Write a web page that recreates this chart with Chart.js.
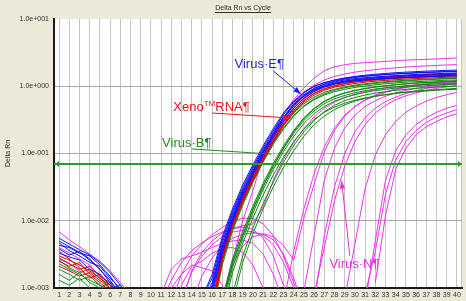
<!DOCTYPE html>
<html>
<head>
<meta charset="utf-8">
<script src="https://cdn.jsdelivr.net/npm/chart.js@4.4.1/dist/chart.umd.min.js"></script>
<style>
    html, body { margin: 0; padding: 0; background: #ece9d8; }
    #grafico { display: block; }
</style>
</head>
<body>
<canvas id="grafico" width="466" height="301"></canvas>
<script>
// Eixos
const cycles = ['1','2','3','4','5','6','7','8','9','10','11','12','13','14','15','16','17','18','19','20',
    '21','22','23','24','25','26','27','28','29','30','31','32','33','34','35','36','37','38','39','40'];
const yTicks = [0.001, 0.01, 0.1, 1, 10];
const yTickLabels = ['1.0e-003', '1.0e-002', '1.0e-001', '1.0e+000', '1.0e+001'];
const threshold = 0.071;

// Ruido de linha de base (ciclo 1 em diante)
const noiseBlue = [
    [0.0055, 0.0045, 0.0037, 0.0031, 0.0024, 0.0017, 0.0011, 0.0007],
    [0.0043, 0.0040, 0.0033, 0.0030, 0.0022, 0.0015, 0.0009],
    [0.0038, 0.0031, 0.0035, 0.0027, 0.0019, 0.0013, 0.0008],
    [0.0047, 0.0036, 0.0030, 0.0024, 0.0021, 0.0014, 0.0010, 0.0006],
    [0.0033, 0.0029, 0.0026, 0.0019, 0.0016, 0.0011, 0.0007],
    [0.0050, 0.0041, 0.0034, 0.0026, 0.0019, 0.0012, 0.0007]
];
const noiseRed = [
    [0.0030, 0.0026, 0.0022, 0.0018, 0.0014, 0.0011, 0.0008],
    [0.0025, 0.0021, 0.0024, 0.0016, 0.0012, 0.0009],
    [0.0021, 0.0018, 0.0015, 0.0017, 0.0013, 0.0010, 0.0007],
    [0.0035, 0.0027, 0.0020, 0.0014, 0.0016, 0.0011, 0.0008],
    [0.0028, 0.0023, 0.0019, 0.0021, 0.0015, 0.0012, 0.0009, 0.0006]
];
const noiseGreen = [
    [0.0019, 0.0016, 0.0013, 0.0015, 0.0011, 0.0009],
    [0.0016, 0.0013, 0.0017, 0.0012, 0.0010, 0.0012, 0.0009, 0.0007],
    [0.0013, 0.0011, 0.0014, 0.0010, 0.0008],
    [0.0023, 0.0019, 0.0016, 0.0013, 0.0011, 0.0009],
    [0.0026, 0.0020, 0.0017, 0.0019, 0.0014, 0.0010, 0.0011, 0.0008]
];
const noiseMagenta = [
    [0.0068, 0.0052, 0.0041, 0.0032, 0.0025, 0.0018, 0.0012, 0.0008],
    [0.0027, 0.0023, 0.0018, 0.0015, 0.0011, 0.0008],
    [0.0040, 0.0033, 0.0027, 0.0022, 0.0015, 0.0010, 0.0006]
];

// Virus E (azul)
const virusEStart = [15, 15, 15, 15, 15, 15, 15];
const virusE = [
    [0.0007, 0.0016, 0.0058, 0.0150, 0.034, 0.068, 0.130, 0.235, 0.40, 0.60, 0.82, 1.00, 1.13, 1.23, 1.31, 1.37, 1.42, 1.46, 1.50, 1.53, 1.56, 1.59, 1.62, 1.64, 1.66, 1.68],
    [0.0006, 0.0012, 0.0047, 0.0128, 0.029, 0.059, 0.113, 0.205, 0.35, 0.54, 0.75, 0.93, 1.06, 1.16, 1.24, 1.30, 1.34, 1.38, 1.41, 1.44, 1.47, 1.50, 1.52, 1.54, 1.56, 1.58],
    [0.0005, 0.0010, 0.0040, 0.0112, 0.0263, 0.0537, 0.105, 0.191, 0.331, 0.513, 0.708, 0.891, 1.02, 1.12, 1.20, 1.26, 1.29, 1.32, 1.35, 1.38, 1.41, 1.43, 1.45, 1.47, 1.49, 1.51],
    [0.0005, 0.0008, 0.0033, 0.0095, 0.023, 0.047, 0.093, 0.172, 0.30, 0.47, 0.66, 0.84, 0.97, 1.07, 1.14, 1.20, 1.24, 1.28, 1.31, 1.34, 1.37, 1.39, 1.41, 1.43, 1.45, 1.46],
    [0.0005, 0.0009, 0.0036, 0.0105, 0.025, 0.052, 0.102, 0.188, 0.33, 0.52, 0.73, 0.93, 1.08, 1.19, 1.28, 1.35, 1.40, 1.45, 1.49, 1.52, 1.55, 1.58, 1.60, 1.62, 1.64, 1.66],
    [0.0006, 0.0011, 0.0042, 0.0118, 0.027, 0.055, 0.107, 0.195, 0.34, 0.52, 0.71, 0.88, 1.00, 1.09, 1.16, 1.21, 1.25, 1.28, 1.31, 1.33, 1.35, 1.37, 1.39, 1.40, 1.42, 1.43],
    [0.0007, 0.0014, 0.0052, 0.0138, 0.031, 0.063, 0.121, 0.220, 0.38, 0.58, 0.80, 0.99, 1.13, 1.24, 1.33, 1.40, 1.46, 1.51, 1.55, 1.59, 1.62, 1.65, 1.68, 1.70, 1.72, 1.74]
];

// Xeno RNA (vermelho)
const xenoStart = [16, 16, 16, 16, 16];
const xeno = [
    [0.0005, 0.0030, 0.0090, 0.021, 0.044, 0.086, 0.160, 0.28, 0.44, 0.62, 0.79, 0.92, 1.02, 1.10, 1.16, 1.21, 1.25, 1.29, 1.32, 1.35, 1.37, 1.39, 1.41, 1.43, 1.44],
    [0.0006, 0.0036, 0.0104, 0.024, 0.050, 0.097, 0.178, 0.31, 0.48, 0.67, 0.85, 0.99, 1.10, 1.18, 1.25, 1.30, 1.34, 1.38, 1.41, 1.44, 1.47, 1.49, 1.51, 1.53, 1.55],
    [0.0004, 0.0026, 0.0080, 0.019, 0.040, 0.079, 0.147, 0.26, 0.41, 0.58, 0.74, 0.87, 0.97, 1.04, 1.10, 1.15, 1.19, 1.22, 1.25, 1.28, 1.30, 1.32, 1.34, 1.36, 1.37],
    [0.0005, 0.0033, 0.0097, 0.022, 0.047, 0.092, 0.170, 0.30, 0.47, 0.66, 0.84, 0.98, 1.09, 1.17, 1.24, 1.29, 1.33, 1.37, 1.40, 1.43, 1.45, 1.47, 1.49, 1.51, 1.52],
    [0.0004, 0.0028, 0.0085, 0.020, 0.042, 0.083, 0.154, 0.27, 0.43, 0.61, 0.78, 0.91, 1.01, 1.09, 1.15, 1.20, 1.24, 1.27, 1.30, 1.33, 1.35, 1.37, 1.39, 1.41, 1.42]
];

// Virus B (verde)
const virusBStart = [16, 16, 17, 17, 17, 17, 18, 17, 16, 18];
const virusB = [
    [0.0005, 0.0028, 0.0085, 0.020, 0.043, 0.085, 0.155, 0.26, 0.40, 0.55, 0.69, 0.81, 0.90, 0.98, 1.04, 1.09, 1.13, 1.17, 1.20, 1.23, 1.25, 1.27, 1.29, 1.31, 1.33],
    [0.0004, 0.0022, 0.0070, 0.017, 0.037, 0.074, 0.137, 0.23, 0.36, 0.50, 0.63, 0.74, 0.83, 0.90, 0.96, 1.01, 1.05, 1.09, 1.12, 1.15, 1.17, 1.19, 1.21, 1.23, 1.24],
    [0.0006, 0.0024, 0.0062, 0.0150, 0.033, 0.066, 0.122, 0.21, 0.33, 0.46, 0.59, 0.70, 0.79, 0.86, 0.92, 0.97, 1.01, 1.05, 1.08, 1.11, 1.13, 1.15, 1.17, 1.19],
    [0.0005, 0.0020, 0.0054, 0.0130, 0.029, 0.058, 0.107, 0.18, 0.28, 0.39, 0.50, 0.60, 0.68, 0.75, 0.81, 0.86, 0.90, 0.94, 0.97, 1.00, 1.02, 1.04, 1.06, 1.08],
    [0.0007, 0.0027, 0.0070, 0.0165, 0.036, 0.071, 0.130, 0.22, 0.34, 0.47, 0.60, 0.71, 0.80, 0.87, 0.93, 0.98, 1.02, 1.06, 1.09, 1.12, 1.14, 1.16, 1.18, 1.20],
    [0.0004, 0.0017, 0.0046, 0.0110, 0.024, 0.048, 0.088, 0.150, 0.23, 0.32, 0.41, 0.49, 0.56, 0.62, 0.67, 0.71, 0.75, 0.78, 0.81, 0.83, 0.85, 0.87, 0.89, 0.90],
    [0.0008, 0.0030, 0.0078, 0.0180, 0.038, 0.074, 0.132, 0.21, 0.31, 0.42, 0.52, 0.61, 0.68, 0.74, 0.79, 0.83, 0.87, 0.90, 0.93, 0.95, 0.97, 0.99, 1.01],
    [0.0006, 0.0023, 0.0060, 0.0145, 0.032, 0.064, 0.118, 0.20, 0.31, 0.43, 0.55, 0.65, 0.73, 0.80, 0.86, 0.91, 0.95, 0.98, 1.01, 1.04, 1.06, 1.08, 1.10, 1.12],
    [0.0005, 0.0025, 0.0075, 0.018, 0.039, 0.078, 0.144, 0.24, 0.37, 0.51, 0.65, 0.77, 0.87, 0.95, 1.01, 1.06, 1.10, 1.14, 1.17, 1.20, 1.23, 1.25, 1.27, 1.29, 1.31],
    [0.0006, 0.0024, 0.0064, 0.0150, 0.032, 0.062, 0.110, 0.18, 0.27, 0.36, 0.45, 0.53, 0.60, 0.66, 0.71, 0.75, 0.79, 0.82, 0.85, 0.87, 0.89, 0.91, 0.93]
];

// Virus N (magenta): curvas que amplificam
const virusNStart = [17, 16, 13, 17, 23, 25, 26, 26, 29, 31, 31, 32];
const virusN = [
    [0.0006, 0.0025, 0.0100, 0.028, 0.089, 0.20, 0.40, 0.63, 0.95, 1.32, 1.70, 1.95, 2.09, 2.19, 2.24, 2.29, 2.34, 2.40, 2.45, 2.48, 2.51, 2.55, 2.59, 2.63],
    [0.0006, 0.0030, 0.0095, 0.023, 0.050, 0.100, 0.190, 0.34, 0.55, 0.80, 1.04, 1.24, 1.40, 1.52, 1.62, 1.70, 1.77, 1.83, 1.88, 1.93, 1.97, 2.01, 2.04, 2.07, 2.10],
    [0.0006, 0.0018, 0.0034, 0.0050, 0.0066, 0.0078, 0.0084, 0.0090, 0.0160, 0.040, 0.082, 0.145, 0.235, 0.35, 0.47, 0.58, 0.68, 0.76, 0.83, 0.89, 0.94, 0.98, 1.02, 1.05, 1.08, 1.10, 1.12, 1.14],
    [0.0007, 0.0022, 0.0042, 0.0058, 0.0064, 0.0058, 0.0043, 0.0026, 0.0110, 0.035, 0.105, 0.22, 0.36, 0.50, 0.63, 0.74, 0.83, 0.91, 0.98, 1.04, 1.09, 1.13, 1.17, 1.20],
    [0.0006, 0.0035, 0.0150, 0.050, 0.125, 0.24, 0.37, 0.50, 0.62, 0.72, 0.81, 0.89, 0.96, 1.02, 1.07, 1.11, 1.15, 1.18],
    [0.0009, 0.0060, 0.040, 0.120, 0.24, 0.37, 0.50, 0.61, 0.71, 0.80, 0.87, 0.93, 0.98, 1.03, 1.07, 1.10],
    [0.0006, 0.0060, 0.032, 0.100, 0.21, 0.34, 0.47, 0.59, 0.69, 0.78, 0.86, 0.93, 0.99, 1.04, 1.08],
    [0.0008, 0.0040, 0.020, 0.065, 0.150, 0.27, 0.40, 0.52, 0.63, 0.72, 0.80, 0.87, 0.93, 0.98, 1.02],
    [0.0007, 0.0045, 0.030, 0.095, 0.19, 0.30, 0.41, 0.51, 0.60, 0.68, 0.75, 0.81],
    [0.0006, 0.0050, 0.040, 0.110, 0.19, 0.27, 0.34, 0.41, 0.47, 0.52],
    [0.0008, 0.0035, 0.025, 0.080, 0.150, 0.22, 0.29, 0.35, 0.40, 0.45],
    [0.0012, 0.012, 0.058, 0.120, 0.19, 0.25, 0.30, 0.35, 0.39]
];

// Virus N (magenta): sinal sem amplificacao
const humpsStart = [11, 12, 11, 13, 12, 14, 11];
const humps = [
    [0.0006, 0.0013, 0.0024, 0.0036, 0.0047, 0.0058, 0.0068, 0.0076, 0.0080, 0.0075, 0.0055, 0.0030, 0.0011, 0.0005],
    [0.0006, 0.0016, 0.0030, 0.0045, 0.0062, 0.0080, 0.0098, 0.0110, 0.0108, 0.0090, 0.0060, 0.0030, 0.0012, 0.0005],
    [0.0008, 0.0019, 0.0027, 0.0030, 0.0034, 0.0040, 0.0046, 0.0050, 0.0052, 0.0046, 0.0032, 0.0016, 0.0006],
    [0.0007, 0.0017, 0.0030, 0.0044, 0.0058, 0.0068, 0.0072, 0.0068, 0.0060, 0.0044, 0.0024, 0.0010, 0.0004],
    [0.0005, 0.0011, 0.0021, 0.0025, 0.0033, 0.0039, 0.0040, 0.0034, 0.0022, 0.0010, 0.0004],
    [0.0006, 0.0015, 0.0028, 0.0042, 0.0055, 0.0063, 0.0066, 0.0063, 0.0052, 0.0032, 0.0014, 0.0005],
    [0.0005, 0.0010, 0.0016, 0.0022, 0.0020, 0.0018, 0.0011, 0.0005]
];

// Anotacoes em coordenadas de dados (ciclo, Delta Rn)
const notes = [
    { text: 'Virus·E¶', color: '#1e1ee8', at: [18.2, 1.87], from: [22.0, 1.69], to: [24.7, 0.77], head: true },
    { text: 'Xeno', sup: 'TM', rest: 'RNA¶', color: '#e8141e', at: [12.2, 0.428], from: [16.0, 0.40], to: [23.7, 0.337], head: true },
    { text: 'Virus·B¶', color: '#1f8a1f', at: [11.1, 0.125], from: [14.0, 0.117], to: [21.8, 0.098], head: false },
    { text: 'Virus·N¶', color: '#e030d8', at: [27.5, 0.00198], from: [29.5, 0.0030], to: [28.7, 0.039], head: true }
];

function place(start, values) {
    return new Array(start - 1).fill(null).concat(values);
}

const datasets = [];

function addCurves(list, starts, color) {
    list.forEach((values, i) => {
        datasets.push({
            data: place(starts ? starts[i] : 1, values),
            borderColor: color,
            borderWidth: 1,
            pointRadius: 0,
            tension: 0,
            fill: false,
            clip: 0
        });
    });
}

// o primeiro dataset fica por cima
addCurves(virusE, virusEStart, '#1010ff');
addCurves(xeno, xenoStart, '#e00000');
addCurves(virusB, virusBStart, '#108a10');
addCurves(virusN, virusNStart, '#f030f0');
addCurves(humps, humpsStart, '#f030f0');
addCurves(noiseBlue, null, '#1010ff');
addCurves(noiseRed, null, '#e00000');
addCurves(noiseGreen, null, '#108a10');
addCurves(noiseMagenta, null, '#f030f0');

//Fundo e area branca
const background = {
    id: 'background',
    beforeDraw(chart) {
        const { ctx, chartArea } = chart;
        ctx.save();
        ctx.fillStyle = '#ece9d8';
        ctx.fillRect(0, 0, chart.width, chart.height);
        ctx.fillStyle = '#ffffff';
        ctx.fillRect(chartArea.left, chartArea.top, chartArea.right - chartArea.left, chartArea.bottom - chartArea.top);
        ctx.strokeStyle = '#c4c4c4';
        ctx.lineWidth = 1;
        ctx.beginPath();
        ctx.moveTo(chartArea.right - 0.5, chartArea.top);
        ctx.lineTo(chartArea.right - 0.5, chartArea.bottom);
        ctx.stroke();
        ctx.restore();
    }
};

function drawArrow(ctx, x1, y1, x2, y2, color, head) {
    ctx.strokeStyle = color;
    ctx.fillStyle = color;
    ctx.lineWidth = 1;
    ctx.beginPath();
    ctx.moveTo(x1, y1);
    ctx.lineTo(x2, y2);
    ctx.stroke();
    if (head) {
        const ang = Math.atan2(y2 - y1, x2 - x1);
        ctx.beginPath();
        ctx.moveTo(x2, y2);
        ctx.lineTo(x2 - 8 * Math.cos(ang - 0.35), y2 - 8 * Math.sin(ang - 0.35));
        ctx.lineTo(x2 - 8 * Math.cos(ang + 0.35), y2 - 8 * Math.sin(ang + 0.35));
        ctx.closePath();
        ctx.fill();
    }
}

//Titulo, linha de threshold e anotacoes
const overlay = {
    id: 'overlay',
    afterDatasetsDraw(chart) {
        const { ctx, chartArea, scales } = chart;
        const xs = scales.x;
        const ys = scales.y;
        ctx.save();

        // threshold
        const ty = Math.round(ys.getPixelForValue(threshold));
        ctx.strokeStyle = '#2e9a2e';
        ctx.fillStyle = '#2e9a2e';
        ctx.lineWidth = 2;
        ctx.beginPath();
        ctx.moveTo(chartArea.left, ty);
        ctx.lineTo(chartArea.right, ty);
        ctx.stroke();
        ctx.beginPath();
        ctx.moveTo(chartArea.left + 1, ty);
        ctx.lineTo(chartArea.left + 5, ty - 3);
        ctx.lineTo(chartArea.left + 5, ty + 3);
        ctx.closePath();
        ctx.fill();
        ctx.beginPath();
        ctx.moveTo(chartArea.right, ty);
        ctx.lineTo(chartArea.right - 4, ty - 3);
        ctx.lineTo(chartArea.right - 4, ty + 3);
        ctx.closePath();
        ctx.fill();

        // titulo
        ctx.font = '7px "Liberation Sans"';
        ctx.fillStyle = '#333333';
        ctx.textAlign = 'center';
        ctx.textBaseline = 'middle';
        const title = 'Delta Rn vs Cycle';
        const tw = ctx.measureText(title).width;
        ctx.fillText(title, 243, 8);
        ctx.strokeStyle = '#333333';
        ctx.lineWidth = 1;
        ctx.beginPath();
        ctx.moveTo(243 - tw / 2, 12.5);
        ctx.lineTo(243 + tw / 2, 12.5);
        ctx.stroke();

        // anotacoes
        ctx.textAlign = 'left';
        ctx.textBaseline = 'alphabetic';
        notes.forEach(note => {
            const px = xs.getPixelForValue(note.at[0] - 1);
            const py = ys.getPixelForValue(note.at[1]);
            ctx.fillStyle = note.color;
            ctx.font = '13px "Liberation Sans"';
            ctx.fillText(note.text, px, py);
            if (note.sup) {
                let cx = px + ctx.measureText(note.text).width;
                ctx.font = '8px "Liberation Sans"';
                ctx.fillText(note.sup, cx, py - 5);
                cx += ctx.measureText(note.sup).width;
                ctx.font = '13px "Liberation Sans"';
                ctx.fillText(note.rest, cx, py);
            }
            drawArrow(ctx,
                xs.getPixelForValue(note.from[0] - 1), ys.getPixelForValue(note.from[1]),
                xs.getPixelForValue(note.to[0] - 1), ys.getPixelForValue(note.to[1]),
                note.color, note.head);
        });
        ctx.restore();
    }
};

Chart.defaults.font.family = '"Liberation Sans", Arial, sans-serif';

const grafico = document.getElementById('grafico');

const graficoDeltaRn = new Chart(grafico, {
    type: 'line',
    data: {
        labels: cycles,
        datasets: datasets
    },
    options: {
        responsive: false,
        animation: false,
        devicePixelRatio: 1,
        layout: { padding: { top: 19, right: 4, bottom: 0, left: 0 } },
        plugins: {
            legend: { display: false },
            tooltip: { enabled: false },
            title: { display: false }
        },
        scales: {
            x: {
                type: 'category',
                offset: true,
                grid: { offset: false, color: '#c4c4c4', drawTicks: false },
                border: { color: '#1a1a1a', width: 2 },
                ticks: { autoSkip: false, maxRotation: 0, minRotation: 0, padding: 3, color: '#333333', font: { size: 7 } },
                afterFit: scale => { scale.height = 13; }
            },
            y: {
                type: 'logarithmic',
                min: 0.001,
                max: 10,
                afterBuildTicks: scale => {
                    scale.ticks = yTicks.map(v => ({ value: v }));
                },
                grid: {
                    drawTicks: false,
                    color: ctx => (ctx.tick && ctx.tick.value >= 10) ? 'rgba(0,0,0,0)' : '#a8a8a8'
                },
                border: { color: '#1a1a1a', width: 2 },
                ticks: {
                    padding: 5,
                    color: '#333333',
                    font: { size: 7 },
                    callback: (value, index) => yTickLabels[index]
                },
                title: {
                    display: true,
                    text: 'Delta Rn',
                    color: '#333333',
                    font: { size: 7 },
                    padding: { top: 4, bottom: 0 }
                },
                afterFit: scale => { scale.width = 54; }
            }
        }
    },
    plugins: [background, overlay]
});
</script>
</body>
</html>
